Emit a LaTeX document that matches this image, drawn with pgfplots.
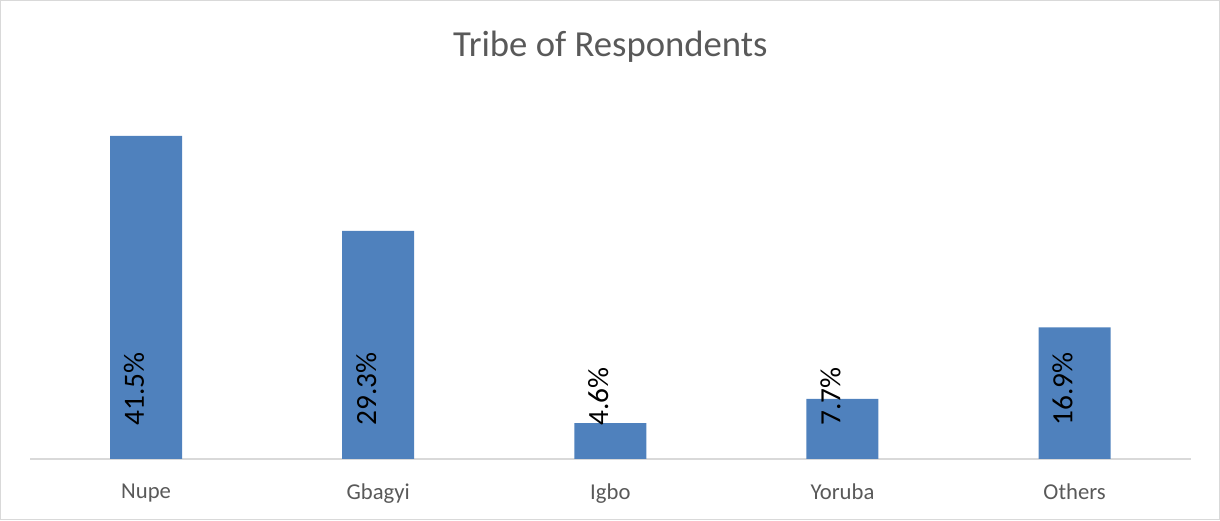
\documentclass[border=0pt]{standalone}
\usepackage{pgfplots}
\pgfplotsset{compat=1.18}
\usepackage{fontspec}
\setmainfont{Carlito}
\definecolor{barblue}{RGB}{79,129,189}
\definecolor{titlegray}{RGB}{89,89,89}
\definecolor{linegray}{RGB}{217,217,217}
\begin{document}
\begin{tikzpicture}
\begin{axis}[
  scale only axis,
  width=870pt, height=262.5pt,
  xmin=-0.5, xmax=4.5,
  ymin=0, ymax=45,
  axis y line=none,
  axis x line*=bottom,
  x axis line style={draw=linegray, line width=1.2pt, -},
  xtick={0,1,2,3,4},
  xticklabels={Nupe,Gbagyi,Igbo,Yoruba,Others},
  major tick length=0pt,
  xticklabel style={font=\fontsize{17}{20}\selectfont, text=titlegray, yshift=-15pt},
  clip=false,
]
\addplot[ybar, bar width=54pt, fill=barblue, draw=none] coordinates {
  (0,41.5) (1,29.3) (2,4.6) (3,7.7) (4,16.9)
};
\addplot[draw=none, mark=none,
  nodes near coords,
  point meta=explicit symbolic,
  nodes near coords style={font=\fontsize{22}{26}\selectfont, text=black,
    anchor=west, rotate=90, xshift=25pt, yshift=9pt, inner sep=0pt}]
  coordinates {
  (0,0) [41.5\%] (1,0) [29.3\%] (2,0) [4.6\%] (3,0) [7.7\%] (4,0) [16.9\%]
};
\end{axis}
\node[font=\fontsize{27.5}{32}\selectfont, text=titlegray] at (435pt,309pt) {Tribe of Respondents};
\draw[linegray, line width=1pt] (-22pt,-45.5pt) rectangle (891.5pt,343.5pt);
\end{tikzpicture}
\end{document}
